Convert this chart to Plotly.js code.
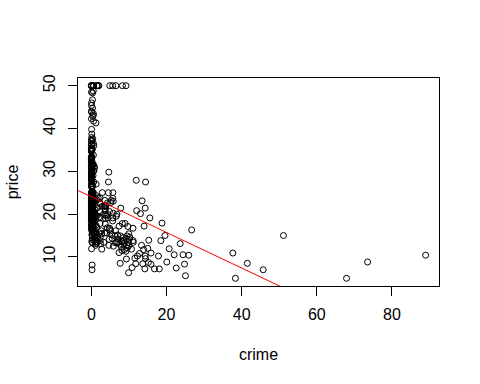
<!DOCTYPE html>
<html>
<head>
<meta charset="utf-8">
<script src="https://cdn.plot.ly/plotly-3.0.1.min.js"></script>
<style>html,body{margin:0;padding:0;background:#fff;}#chart{width:480px;height:384px;}</style>
</head>
<body>
<div id="chart"></div>
<script>
// crime (per-capita crime rate) and price (median value, $1000s)
const crime = [
0.00632,0.02731,0.02729,0.03237,0.06905,0.02985,0.08829,0.14455,0.21124,0.17004,
0.22489,0.11747,0.09378,0.62976,0.63796,0.62739,1.05393,0.78420,0.80271,0.72580,
1.25179,0.85204,1.23247,0.98843,0.75026,0.84054,0.67191,0.95577,0.77299,1.00245,
1.13081,1.35472,1.38799,1.15172,1.61282,0.06417,0.09744,0.08014,0.17505,0.02763,
0.03359,0.12744,0.14150,0.15936,0.12269,0.17142,0.18836,0.22927,0.25387,0.21977,
0.08873,0.04337,0.05360,0.04981,0.01360,0.01311,0.02055,0.01432,0.15445,0.10328,
0.14932,0.17171,0.11027,0.12650,0.01951,0.03584,0.04379,0.05789,0.13554,0.12816,
0.08826,0.15876,0.09164,0.19539,0.07896,0.09512,0.10153,0.08707,0.05646,0.08387,
0.04113,0.04462,0.03659,0.03551,0.05059,0.05735,0.05188,0.07151,0.05660,0.05302,
0.04684,0.03932,0.04203,0.02875,0.04294,0.12204,0.11504,0.12083,0.08187,0.06860,
0.14866,0.11432,0.22876,0.21161,0.13960,0.13262,0.17120,0.13117,0.12802,0.26363,
0.10793,0.10084,0.12329,0.22212,0.14231,0.17134,0.13158,0.15098,0.13058,0.14476,
0.06899,0.07165,0.09299,0.15038,0.09849,0.16902,0.38735,0.25915,0.32543,0.88125,
0.34006,1.19294,0.59005,0.32982,0.97617,0.55778,0.32264,0.35233,0.24980,0.54452,
0.29090,1.62864,3.32105,4.09740,2.77974,2.37934,2.15505,2.36862,2.33099,2.73397,
1.65660,1.49632,1.12658,2.14918,1.41385,3.53501,2.44668,1.22358,1.34284,1.42502,
1.27346,1.46336,1.83377,1.51902,2.24236,2.92400,2.01019,1.80028,2.30040,2.44953,
1.20742,2.31390,0.13914,0.09178,0.08447,0.06664,0.07022,0.05425,0.06642,0.05780,
0.06588,0.06888,0.09103,0.10008,0.08308,0.06047,0.05602,0.07875,0.12579,0.08370,
0.09068,0.06911,0.08664,0.02187,0.01439,0.01381,0.04011,0.04666,0.03768,0.03150,
0.01778,0.03445,0.02177,0.03510,0.02009,0.13642,0.22969,0.25199,0.13587,0.43571,
0.17446,0.37578,0.21719,0.14052,0.28955,0.19802,0.04560,0.07013,0.11069,0.11425,
0.35809,0.40771,0.62356,0.61470,0.31533,0.52693,0.38214,0.41238,0.29819,0.44178,
0.53700,0.46296,0.57529,0.33147,0.44791,0.33045,0.52058,0.51183,0.08244,0.09252,
0.11329,0.10612,0.10290,0.12757,0.20608,0.19133,0.33983,0.19657,0.16439,0.19073,
0.14030,0.21409,0.08221,0.36894,0.04819,0.03548,0.01538,0.61154,0.66351,0.65665,
0.54011,0.53412,0.52014,0.82526,0.55007,0.76162,0.78570,0.57834,0.54050,0.09065,
0.29916,0.16211,0.11460,0.22188,0.05644,0.09604,0.10469,0.06127,0.07978,0.21038,
0.03578,0.03705,0.06129,0.01501,0.00906,0.01096,0.01965,0.03871,0.04590,0.04297,
0.03502,0.07886,0.03615,0.08265,0.08199,0.12932,0.05372,0.14103,0.06466,0.05561,
0.04417,0.03537,0.09266,0.10000,0.05515,0.05479,0.07503,0.04932,0.49298,0.34940,
2.63548,0.79041,0.26169,0.26938,0.36920,0.25356,0.31827,0.24522,0.40202,0.47547,
0.16760,0.18159,0.35114,0.28392,0.34109,0.19186,0.30347,0.24103,0.06617,0.06724,
0.04544,0.05023,0.03466,0.05083,0.03738,0.03961,0.03427,0.03041,0.03306,0.05497,
0.06151,0.01301,0.02498,0.02543,0.03049,0.03113,0.06162,0.01870,0.01501,0.02899,
0.06211,0.07950,0.07244,0.01709,0.04301,0.10659,8.98296,3.84970,5.20177,4.26131,
4.54192,3.83684,3.67822,4.22239,3.47428,4.55587,3.69695,13.52220,4.89822,5.66998,
6.53876,9.23230,8.26725,11.10810,18.49820,19.60910,15.28800,9.82349,23.64820,17.86670,
88.97620,15.87440,9.18702,7.99248,20.08490,16.81180,24.39380,22.59710,14.33370,8.15174,
6.96215,5.29305,11.57790,8.64476,13.35980,8.71675,5.87205,7.67202,38.35180,9.91655,
25.04610,14.23620,9.59571,24.80170,41.52920,67.92080,20.71620,11.95110,7.40389,14.43830,
51.13580,14.05070,18.81100,26.70000,45.74610,18.08460,10.83420,25.94060,73.53410,11.81230,
11.08740,7.02259,12.04820,7.05042,8.79212,15.86030,12.24720,37.66190,7.36711,9.33889,
8.49213,10.06230,6.44405,5.58107,13.91340,11.16040,14.42080,15.17720,13.67810,9.39063,
22.05110,9.72418,5.66637,9.96654,12.80230,10.67180,6.28807,9.92485,9.32909,7.52601,
6.71772,5.44114,5.09017,8.24809,9.51363,4.75237,4.66883,8.20058,7.75223,6.80117,
4.81213,3.69311,6.65492,5.82115,7.83932,3.16360,3.77498,4.42228,15.57570,13.07510,
4.34879,4.03841,3.56868,4.64689,8.05579,6.39312,4.87141,15.02340,10.23300,14.33370,
5.82401,5.70818,5.73116,2.81838,2.37857,3.67367,5.69175,4.83567,0.15086,0.18337,
0.20746,0.10574,0.11132,0.17331,0.27957,0.17899,0.28960,0.26838,0.23912,0.17783,
0.22438,0.06263,0.04527,0.06076,0.10959,0.04741
];
const price = [
24.0,21.6,34.7,33.4,36.2,28.7,22.9,27.1,16.5,18.9,
15.0,18.9,21.7,20.4,18.2,19.9,23.1,17.5,20.2,18.2,
13.6,19.6,15.2,14.5,15.6,13.9,16.6,14.8,18.4,21.0,
12.7,14.5,13.2,13.1,13.5,18.9,20.0,21.0,24.7,30.8,
34.9,26.6,25.3,24.7,21.2,19.3,20.0,16.6,14.4,19.4,
19.7,20.5,25.0,23.4,18.9,35.4,24.7,31.6,23.3,19.6,
18.7,16.0,22.2,25.0,33.0,23.5,19.4,22.0,17.4,20.9,
24.2,21.7,22.8,23.4,24.1,21.4,20.0,20.8,21.2,20.3,
28.0,23.9,24.8,22.9,23.9,26.6,22.5,22.2,23.6,28.7,
22.6,22.0,22.9,25.0,20.6,28.4,21.4,38.7,43.8,33.2,
27.5,26.5,18.6,19.3,20.1,19.5,19.5,20.4,19.8,19.4,
21.7,22.8,18.8,18.7,18.5,18.3,21.2,19.2,20.4,19.3,
22.0,20.3,20.5,17.3,18.8,21.4,15.7,16.2,18.0,14.3,
19.2,19.6,23.0,18.4,15.6,18.1,17.4,17.1,13.3,17.8,
14.0,14.4,13.4,15.6,11.8,13.8,15.6,14.6,17.8,15.4,
21.5,19.6,15.3,19.4,17.0,15.6,13.1,41.3,24.3,23.3,
27.0,50.0,50.0,50.0,22.7,25.0,50.0,23.8,23.8,22.3,
17.4,19.1,23.1,23.6,22.6,29.4,23.2,24.6,29.9,37.2,
39.8,36.2,37.9,32.5,26.4,29.6,50.0,32.0,29.8,34.9,
37.0,30.5,36.4,31.1,29.1,50.0,33.3,30.3,34.6,34.9,
32.9,24.1,42.3,48.5,50.0,22.6,24.4,22.5,24.4,20.0,
21.7,19.3,22.4,28.1,23.7,25.0,23.3,28.7,21.5,23.0,
26.7,21.7,27.5,30.1,44.8,50.0,37.6,31.6,46.7,31.5,
24.3,31.7,41.7,48.3,29.0,24.0,25.1,31.5,23.7,23.3,
22.0,20.1,22.2,23.7,17.6,18.5,24.3,20.5,24.5,26.2,
24.4,24.8,29.6,42.8,21.9,20.9,44.0,50.0,36.0,30.1,
33.8,43.1,48.8,31.0,36.5,22.8,30.7,50.0,43.5,20.7,
21.1,25.2,24.4,35.2,32.4,32.0,33.2,33.1,29.1,35.1,
45.4,35.4,46.0,50.0,32.2,22.0,20.1,23.2,22.3,24.8,
28.5,37.3,27.9,23.9,21.7,28.6,27.1,20.3,22.5,29.0,
24.8,22.0,26.4,33.1,36.1,28.4,33.4,28.2,22.8,20.3,
16.1,22.1,19.4,21.6,23.8,16.2,17.8,19.8,23.1,21.0,
23.8,23.1,20.4,18.5,25.0,24.6,23.0,22.2,19.3,22.6,
19.8,17.1,19.4,22.2,20.7,21.1,19.5,18.5,20.6,19.0,
18.7,32.7,16.5,23.9,31.2,17.5,17.2,23.1,24.5,26.6,
22.9,24.1,18.6,30.1,18.2,20.6,17.8,21.7,22.7,22.6,
25.0,19.9,20.8,16.8,21.9,27.5,21.9,23.1,50.0,50.0,
50.0,50.0,50.0,13.8,13.8,15.0,13.9,13.3,13.1,10.2,
10.4,10.9,11.3,12.3,8.8,7.2,10.5,7.4,10.2,11.5,
15.1,23.2,9.7,13.8,12.7,13.1,12.5,8.5,5.0,6.3,
5.6,7.2,12.1,8.3,8.5,5.0,11.9,27.9,17.2,27.5,
15.0,17.2,17.9,16.3,7.0,7.2,7.5,10.4,8.8,8.4,
16.7,14.2,20.8,13.4,11.7,8.3,10.2,10.9,11.0,9.5,
14.5,14.1,16.1,14.3,11.7,13.4,9.6,8.7,8.4,12.8,
10.5,17.1,18.4,15.4,10.8,11.8,14.9,12.6,14.1,13.0,
13.4,15.2,16.1,17.8,14.9,14.1,12.7,13.5,14.9,20.0,
16.4,17.7,19.5,20.2,21.4,19.9,19.0,19.1,19.1,20.1,
19.9,19.6,23.2,29.8,13.8,13.3,16.7,12.0,14.6,21.4,
23.0,23.7,25.0,21.8,20.6,21.2,19.1,20.6,15.2,7.0,
8.1,13.6,20.1,21.8,24.5,23.1,19.7,18.3,21.2,17.5,
16.8,22.4,20.6,23.9,22.0,11.9
];
const xTicks = [0, 20, 40, 60, 80];
const yTicks = [10, 20, 30, 40, 50];
const xLabel = "crime";
const yLabel = "price";

// least-squares fit price ~ crime (the red abline)
function fit(x, y) {
  const n = x.length;
  const mx = x.reduce((a, b) => a + b, 0) / n;
  const my = y.reduce((a, b) => a + b, 0) / n;
  let sxy = 0, sxx = 0;
  for (let i = 0; i < n; i++) { sxy += (x[i] - mx) * (y[i] - my); sxx += (x[i] - mx) ** 2; }
  const b = sxy / sxx;
  return { a: my - b * mx, b: b };
}
function padRange(v) {
  const lo = Math.min(...v), hi = Math.max(...v), d = (hi - lo) * 0.04;
  return [lo - d, hi + d];
}
const xr = padRange(crime), yr = padRange(price);
const lm = fit(crime, price);
const lineX = [xr[0], xr[1]];
const lineY = lineX.map(v => lm.a + lm.b * v);

const font = { family: "Liberation Sans, Arial, sans-serif", size: 16, color: "#000" };

const traces = [
  { type: "scatter", mode: "markers", x: crime, y: price,
    marker: { symbol: "circle-open", size: 6, color: "#000", line: { width: 1, color: "#000" } },
    hoverinfo: "skip", showlegend: false },
  { type: "scatter", mode: "lines", x: lineX, y: lineY,
    line: { color: "#ff0000", width: 1 }, hoverinfo: "skip", showlegend: false }
];

const axisCommon = {
  showgrid: false, zeroline: false, showline: true, mirror: true,
  linecolor: "#000", linewidth: 1, ticks: "outside", ticklen: 9, tickwidth: 1,
  tickcolor: "#000", tickfont: font
};

const layout = {
  width: 480, height: 384,
  margin: { l: 78, r: 41, t: 78, b: 98 },
  paper_bgcolor: "#fff", plot_bgcolor: "#fff",
  font: font,
  showlegend: false,
  xaxis: Object.assign({}, axisCommon, {
    range: xr, tickmode: "array", tickvals: xTicks, ticktext: xTicks.map(String),
    ticklabelstandoff: 5,
    title: { text: xLabel, font: font, standoff: 26 }
  }),
  yaxis: Object.assign({}, axisCommon, {
    range: yr, tickmode: "array", tickvals: yTicks, ticktext: yTicks.map(String),
    tickangle: -90, ticklabelstandoff: 7,
    title: { text: yLabel, font: font, standoff: 17 }
  })
};

Plotly.newPlot("chart", traces, layout, { staticPlot: true, displayModeBar: false });
</script>
</body>
</html>
